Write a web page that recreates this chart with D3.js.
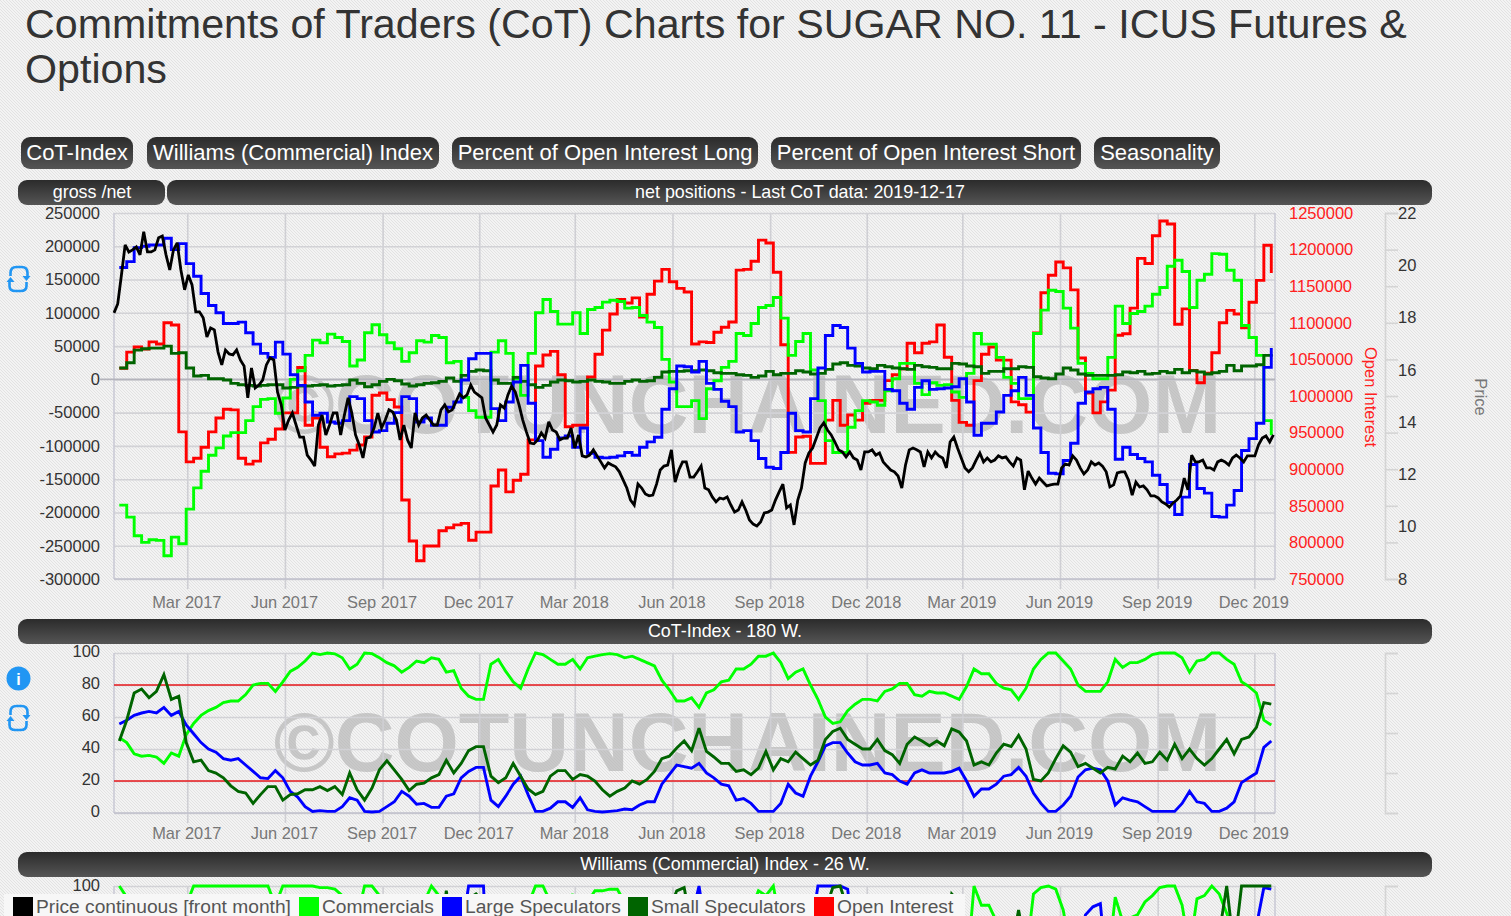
<!DOCTYPE html>
<html>
<head>
<meta charset="utf-8">
<title>Commitments of Traders (CoT) Charts for SUGAR NO. 11 - ICUS Futures &amp; Options</title>
<script src="https://d3js.org/d3.v7.min.js"></script>
<style>
html,body{margin:0;padding:0;background:#f0f0f0;overflow:hidden}
svg{display:block;font-family:"Liberation Sans",Arial,sans-serif}
</style>
</head>
<body>
<div id="chart"></div>
<script>
// ---------- data: weekly net positions (thousand contracts), 2016-12-27 .. 2019-12-17 ----------
const firstReport = "2016-12-27";
const netCommercials = [
-189,-207,-235,-245,-241,-242,-265,-237,-247,-195,
-163,-138,-114,-103,-85,-80,-80,-62,-41,-30,
-29,-51,-28,0,13,36,59,55,68,63,
57,20,29,70,82,67,55,46,27,40,
58,56,66,63,25,27,-27,-47,-57,-57,
41,58,39,1,-24,39,100,120,102,83,
83,100,69,105,108,116,119,117,107,108,
96,86,78,30,-4,-41,-41,-32,-59,-14,
-2,18,27,69,66,84,108,111,123,92,
36,57,69,14,-32,-92,-110,-110,-72,-47,
-32,-34,-39,-17,1,24,24,-6,-23,-5,
-9,-8,-19,-27,9,69,53,53,33,3,
-6,-29,-29,69,104,134,132,107,77,24,
9,1,1,33,110,84,99,102,110,128,
138,170,179,162,108,149,158,189,188,164,
149,81,63,36,-62,-84];
const netLargeSpecs = [
168,177,198,200,202,202,212,195,204,174,
155,129,111,100,84,84,86,70,53,39,
33,56,38,7,-9,-34,-54,-51,-64,-66,
-62,-26,-29,-62,-79,-77,-66,-50,-26,-29,
-64,-58,-69,-69,-42,-34,-1,31,39,39,
-44,-62,-34,-4,21,-36,-92,-117,-105,-88,
-85,-102,-73,-111,-117,-118,-117,-115,-110,-114,
-102,-94,-87,-45,-14,20,19,11,27,-6,
-15,-33,-41,-79,-77,-92,-119,-132,-134,-110,
-51,-77,-79,-29,17,66,81,78,47,24,
11,12,12,-15,-17,-36,-45,-12,-2,-15,
-14,-13,-11,1,-34,-84,-66,-66,-49,-24,
-17,3,-24,-73,-110,-141,-142,-122,-96,-36,
-19,-14,-12,-45,-120,-102,-113,-119,-124,-144,
-158,-185,-203,-177,-128,-164,-171,-206,-207,-189,
-167,-107,-89,-66,18,47];
const netSmallSpecs = [
17,25,44,46,47,47,50,39,40,17,
5,6,1,1,-1,-6,-8,-9,-10,-9,
-8,-8,-13,-12,-10,-10,-9,-8,-10,-9,
-8,-1,-6,-11,-8,-3,0,-2,-7,-10,
-8,-6,-5,-3,2,-3,6,12,14,13,
-1,-6,-6,3,-3,-8,-12,-9,-4,-1,
-2,-4,-3,-1,-3,-4,-6,-6,-3,-1,
-3,-2,3,11,12,12,13,13,14,13,
10,9,9,7,6,3,5,12,7,9,
9,13,11,8,9,15,23,25,21,20,
17,16,21,19,17,16,15,21,19,18,
16,16,24,23,20,19,9,12,12,16,
16,19,18,4,2,1,8,17,14,8,
6,6,6,6,7,11,10,12,8,9,
12,10,15,10,13,11,8,10,12,21,
13,20,20,22,36,38];
const openInterest = [
1038,1060,1067,1064,1074,1071,1100,1097,951,910,
915,930,951,970,982,981,915,907,911,936,
941,955,977,977,1039,960,970,930,917,921,
922,926,933,944,1001,1004,995,985,858,802,
775,795,795,816,820,824,826,803,814,814,
877,899,869,885,893,940,1041,1056,1061,1029,
958,960,960,1026,1057,1090,1112,1132,1127,1134,
1108,1139,1157,1173,1156,1147,1142,1071,1074,1073,
1087,1094,1101,1172,1173,1184,1213,1209,1169,1070,
923,944,945,908,908,967,994,960,974,967,
990,994,994,1021,1029,1037,1072,1059,1072,1074,
1097,1053,994,964,960,1021,1057,1067,1049,1049,
992,988,978,1086,1141,1165,1183,1175,1145,1052,
1004,977,992,1008,1083,1085,1120,1188,1181,1219,
1239,1235,1098,1119,1035,1018,1031,1059,1100,1117,
1112,1093,1128,1158,1206,1168];

// price continuous [front month], two readings per week from 2016-12-22
const firstPrice = "2016-12-22";
const priceFront = [
18.18,18.52,19.63,20.78,20.51,20.59,20.70,20.40,21.28,20.51,20.51,20.59,21.05,21.12,20.40,19.82,20.59,20.86,19.82,19.06,
19.63,19.25,18.22,18.22,17.99,17.26,17.60,17.53,16.68,16.19,16.76,16.61,16.57,16.76,16.38,16.15,14.93,16.07,15.31,15.42,
15.61,16.19,16.46,16.38,15.15,14.66,13.70,14.08,14.35,13.89,13.43,13.43,12.74,12.55,12.32,13.89,14.27,13.51,13.89,14.35,
14.35,13.51,14.27,14.93,14.35,13.51,13.13,12.63,13.39,13.43,13.78,14.35,13.78,14.08,14.47,14.39,14.08,13.32,13.89,13.32,
13.01,14.35,13.89,14.16,14.27,14.08,13.89,13.89,14.47,14.66,14.39,14.47,14.77,15.08,14.93,15.04,15.42,15.15,15.04,14.93,
14.16,13.89,13.62,13.89,14.66,14.54,15.04,15.38,15.15,14.66,14.08,13.62,13.20,13.17,13.32,13.59,13.39,14.01,13.70,13.62,
13.32,13.39,13.39,13.78,13.01,13.51,12.71,12.67,12.74,12.94,12.71,12.48,12.25,12.44,12.36,12.29,12.10,11.79,11.48,11.02,
10.83,11.63,11.48,11.25,11.18,11.21,11.63,12.17,12.32,12.36,12.94,11.71,12.17,12.48,12.48,11.90,11.90,12.10,12.32,11.48,
11.41,11.14,10.95,11.10,11.06,11.14,10.83,10.56,10.64,10.95,10.64,10.26,10.10,10.03,10.18,10.53,10.56,10.64,11.02,11.33,
11.63,10.72,10.83,10.07,11.02,11.48,12.44,12.82,13.01,13.39,13.78,13.97,13.70,13.51,13.24,12.94,12.86,12.67,12.86,12.63,
12.55,12.17,12.86,12.86,12.94,12.74,12.82,12.48,12.32,12.17,12.10,11.94,11.48,12.36,12.94,13.01,12.94,12.86,12.29,12.86,
12.63,12.86,12.71,12.63,12.25,13.24,13.43,13.01,12.63,12.25,12.10,12.25,12.55,12.82,12.48,12.63,12.48,12.55,12.71,
12.63,12.67,12.48,12.32,12.63,12.55,11.41,12.13,11.86,11.63,11.86,11.71,11.56,11.60,11.63,11.63,12.25,12.40,12.36,12.71,
12.55,12.25,12.02,12.17,12.48,12.36,12.44,12.32,12.10,11.52,11.60,12.06,12.10,12.10,11.79,11.21,11.71,11.52,11.56,11.41,
11.18,11.18,11.10,10.95,10.87,10.75,10.91,11.02,11.18,11.86,11.41,12.74,12.48,12.48,12.55,12.25,12.25,12.17,12.48,12.55,
12.48,12.36,12.63,12.74,12.63,12.48,12.71,12.71,12.71,13.13,13.39,13.47,13.24,13.51];

// CoT-Index - 180 W.
const cotCommercials = [
47,44,37,35.5,36,35,31,37.5,35.5,49,
56,61,64,66,69,70,70,74,80,81,
81,76,82,88.5,91,95,100,99,100,99.5,
97,90,93,100,99.6,97,94,92,88,91,
95,94,97,96,88,89,78,73,71,71,
93,96,88.5,82,78,90,100,99,96,93,
93,96,90,97,98,99,99.6,99,97,98,
96,94,92,83,77,70,70,72,66,75,
77,82,83,90,90,93,98,98,100,94,
84,88,90,80,71,60,56,57,64,68,
71,71,70,76,77.5,81,81,74,73,76,
75,75,73,71,79,90,87,87,81,78,
77,71,78,90,96,100,100,95,90,80,
76,76,76,82,96,91,94,94,96,99,
100,100,100,97,88,95,96,100,100,96,
93,82,79,75,58,55];
const cotLargeSpecs = [
55.6,58,61,62.5,63.5,62.5,66,61,63.5,55,
49.5,44,40,38,34,33,34,30,26,22,
21.5,26.5,22,13.5,10,4,1,1.5,1,1,
4,9.5,8,1,0.6,1,4,7,13.5,10.5,
5.5,6,3.5,3.5,10.5,12,22,26,28.5,28.5,
8,4,10.5,18,23,11.5,1,1,3,7,
7,3.5,9.5,2,1,0.6,1,1.5,2.5,2,
5,7,7,18,24,30,29,28,31,25,
22,18,17,8,9,6,1,1,1,6,
18,12.5,10.5,23,32,42,44,44,37.5,32,
30,30,31,25,24,20,18,25,27,25,
25,25,26,28,20,10.5,15,15,18,23,
24,28.5,23,12.5,6,1,1,5,10.5,22.5,
27,28,27,20,5,9.5,8,7,4,1,
1,1,1,6,13.5,7,6,1,1,3,
7,19,22,25,41,45];
const cotSmallSpecs = [
45,58,75,77.5,72,76,86.5,71,73,44,
32,33,26.5,25,22,17,13.5,12.5,6,11.5,
16.5,16.5,8,11.5,12,14.5,14.5,16.5,14,16.5,
11.5,25,14.5,8,15.6,27,32.7,27,21,14,
18,18.7,22,24,33,25,31,39,41.5,41.5,
23,19,22,31,23,15,11.5,13.5,23,26.5,
26.5,21,24,23,20,14.5,10.5,13.5,15.6,20,
18,21,26,34,35.5,40.6,45,39,53,38.5,
35,31,31,26,27,24,28,38.5,27,34,
32,38,34,30,33,46,51,53,46,43,
40,40,46,39,36.5,31,43,47.5,45,42,
45,42,52.5,50.6,45,30,32,30,37.5,43,
41.6,48.5,40,21,20,25,34,42,38,29,
31,28,25,28.5,27.5,35.5,32,37.5,31,32,
38,33,43,34,40,34,30,34,40,46,
37,46,47.5,53.5,69,68];

// Williams (Commercial) Index - 26 W. (only the very top of this chart is on screen)
const wilCommercials = [
100,93,80,70,65,60,50,60,70,88,
100,100,100,100,100,100,100,100,100,100,
100,88,100,100,100,100,100,99,99,98,
94,70,80,100,100,94,88,75,60,75,
92,90,100,94,60,70,40,30,20,20,
70,88,60,40,30,88,100,100,90,80,
80,95,70,90,97,97,98,98,90,92,
80,70,55,30,20,10,10,15,5,25,
30,45,50,75,72,85,97,94,100,75,
30,50,60,20,5,0,0,0,5,15,
25,22,20,35,45,60,60,30,20,35,
30,30,22,15,45,100,88,88,78,60,
50,25,55,95,99,100,98,85,60,30,
20,20,20,50,93,78,80,82,90,94,
99,100,100,88,60,92,94,100,95,83,
70,40,30,25,10,5];
const wilLargeSpecs = [
50,55,60,62,60,55,65,50,60,40,
30,20,15,12,10,8,10,7,5,3,
2,30,15,8,5,0,0,2,0,1,
8,40,30,3,2,5,15,30,55,40,
15,20,10,10,40,50,70,100,100,100,
5,0,25,55,70,20,0,0,8,30,
30,10,50,3,0,0,0,3,8,3,
20,30,35,70,85,90,85,80,100,70,
60,40,35,8,10,5,0,0,0,10,
60,30,25,70,100,100,100,100,98,60,
40,45,50,20,18,5,0,25,35,20,
25,25,30,40,10,0,15,15,30,50,
55,70,50,15,3,0,0,10,25,55,
82,87,89,40,3,10,5,3,2,0,
0,0,0,5,25,8,5,0,0,3,
10,45,60,75,99,98];
const wilSmallSpecs = [
10,40,60,62,50,60,85,55,60,20,
10,12,8,7,5,3,2,2,0,5,
15,15,5,10,12,20,20,25,18,25,
15,50,25,8,30,70,85,70,50,25,
35,38,50,60,97,60,80,92,95,90,
40,25,50,80,50,25,15,20,45,55,
55,40,50,45,38,25,12,20,30,40,
35,42,55,80,85,97,99,75,90,70,
60,50,50,30,35,25,35,70,30,55,
50,70,55,40,50,85,99,100,85,70,
55,55,80,55,45,30,70,85,78,65,
78,65,95,90,75,30,35,30,50,70,
60,85,60,10,8,20,50,78,60,35,
40,30,25,32,30,55,45,60,38,42,
62,50,70,40,58,40,30,40,70,100,
60,100,100,100,100,100];

// ---------- axes, labels ----------
const netTicks = [250000,200000,150000,100000,50000,0,-50000,-100000,-150000,-200000,-250000,-300000];
const oiTicks = [1250000,1200000,1150000,1100000,1050000,1000000,950000,900000,850000,800000,750000];
const priceTicks = [22,20,18,16,14,12,10,8];
const indexTicks = [100,80,60,40,20,0];
const williamsVisibleTicks = [100];
const indexBands = [80,20];
const sideTicks = [100,75,50,25,0];
const timeTicks = ["2017-03-01","2017-06-01","2017-09-01","2017-12-01","2018-03-01","2018-06-01","2018-09-01","2018-12-01","2019-03-01","2019-06-01","2019-09-01","2019-12-01"];
const titleLines = ["Commitments of Traders (CoT) Charts for SUGAR NO. 11 - ICUS Futures &","Options"];
const buttonLabels = ["CoT-Index","Williams (Commercial) Index","Percent of Open Interest Long","Percent of Open Interest Short","Seasonality"];
const legendLabels = ["Price continuous [front month]","Commercials","Large Speculators","Small Speculators","Open Interest"];
const watermark = "\u00A9COTUNCHAINED.COM";

// ---------- drawing ----------
const W = 1511, H = 916;
const C = {green:"#00ff00", blue:"#0000ff", dark:"#006400", red:"#ff0000", black:"#000000"};
const svg = d3.select("#chart").append("svg").attr("width",W).attr("height",H).attr("viewBox",`0 0 ${W} ${H}`);
const defs = svg.append("defs");

const pat = defs.append("pattern").attr("id","dither").attr("width",3).attr("height",3).attr("patternUnits","userSpaceOnUse");
pat.append("rect").attr("width",3).attr("height",3).attr("fill","#f3f3f3");
[[0,0],[1,1],[2,2]].forEach(p=>pat.append("rect").attr("x",p[0]).attr("y",p[1]).attr("width",1).attr("height",1).attr("fill","#e2e2e2"));
const grad = defs.append("linearGradient").attr("id","bar").attr("x1",0).attr("y1",0).attr("x2",0).attr("y2",1);
grad.append("stop").attr("offset","0").attr("stop-color","#2b2b2b");
grad.append("stop").attr("offset","1").attr("stop-color","#555555");

svg.append("rect").attr("width",W).attr("height",H).attr("fill","url(#dither)");

// title
svg.append("g").selectAll("text").data(titleLines).join("text")
  .attr("x",25).attr("y",(d,i)=>37.5+i*45).attr("font-size",41.2).attr("fill","#333").text(d=>d);

// buttons
const buttonBoxes = [[21,112],[147,292],[452,306],[771,310],[1094,126]];
const btn = svg.append("g").selectAll("g").data(buttonLabels).join("g");
btn.append("rect").attr("x",(d,i)=>buttonBoxes[i][0]).attr("y",137).attr("width",(d,i)=>buttonBoxes[i][1]).attr("height",32).attr("rx",9).attr("fill","url(#bar)");
btn.append("text").attr("x",(d,i)=>buttonBoxes[i][0]+buttonBoxes[i][1]/2).attr("y",160).attr("text-anchor","middle")
  .attr("font-size",22).attr("fill","#fff").text(d=>d);

function bar(x,y,w,label,cx){
  svg.append("rect").attr("x",x).attr("y",y).attr("width",w).attr("height",25).attr("rx",9).attr("fill","url(#bar)");
  svg.append("text").attr("x",cx).attr("y",y+18).attr("text-anchor","middle").attr("font-size",17.9).attr("fill","#fff").text(label);
}
bar(18,180,147,"gross /net",92);
bar(167,180,1265,"net positions - Last CoT data: 2019-12-17",800);
bar(18,619,1414,"CoT-Index - 180 W.",725);
bar(18,852,1414,"Williams (Commercial) Index - 26 W.",725);

// scales
const x = d3.scaleUtc().domain([new Date("2016-12-22T00:00Z"),new Date("2019-12-20T12:00Z")]).range([114,1275]);
const tickDates = timeTicks.map(d=>new Date(d+"T00:00Z"));
const fmt = d3.utcFormat("%b %Y");
const DAY = 864e5;
const weekDate = i => new Date(+new Date(firstReport+"T00:00Z")+i*7*DAY);
const priceDate = i => new Date(+new Date(firstPrice+"T00:00Z")+i*3.5*DAY);

function styleAxis(g,color,size){
  g.select(".domain").remove();
  g.selectAll("text").attr("fill",color).attr("font-size",size).attr("font-family","'Liberation Sans',Arial,sans-serif");
}
// o: {pad: month-label padding, labelDy: shift of left labels, months: draw month labels, labels: left label values}
function grid(y0,y1,yScaleTicks,yScale,o){
  const g = svg.append("g");
  const ax = g.append("g").attr("transform",`translate(0,${y1})`)
    .call(d3.axisBottom(x).tickValues(tickDates).tickFormat(o.months?fmt:"").tickSize(10).tickPadding(o.pad));
  styleAxis(ax,"#777",16.4);
  ax.selectAll("text").attr("dx",-1);
  ax.selectAll("line").attr("y1",-(y1-y0)).attr("stroke","#cfcfd4").attr("stroke-width",1.6);
  if(!o.months) ax.selectAll("text").remove();
  const ay = g.append("g").attr("transform","translate(114,0)")
    .call(d3.axisLeft(yScale).tickValues(yScaleTicks).tickFormat(d=>String(d)).tickSize(14).tickPadding(0));
  styleAxis(ay,"#333",16.5);
  ay.selectAll("text").attr("dy",(0.32-o.labelDy/16.5)+"em");
  ay.selectAll("line").attr("x2",1161).attr("stroke","#d2d2d6").attr("stroke-width",1.6);
  g.append("line").attr("x1",114).attr("x2",114).attr("y1",y0).attr("y2",y1).attr("stroke","#c8c8d4").attr("stroke-width",1.5);
  g.append("line").attr("x1",1275).attr("x2",1275).attr("y1",y0).attr("y2",y1).attr("stroke","#c8c8d4").attr("stroke-width",1.5);
  g.append("line").attr("x1",114).attr("x2",1275).attr("y1",y1).attr("y2",y1).attr("stroke","#c0c0cc").attr("stroke-width",1.6);
}
function sideAxis(scale,values){
  const a = svg.append("g").attr("transform","translate(1385,0)")
    .call(d3.axisRight(scale).tickValues(values).tickFormat("").tickSize(13));
  a.select(".domain").attr("stroke","#d4d4d4").attr("stroke-width",1.6);
  a.selectAll("line").attr("stroke","#d4d4d4").attr("stroke-width",1.6);
  a.selectAll("text").remove();
}
function wm(y){
  svg.append("text").attr("x",747.5).attr("y",y).attr("text-anchor","middle").attr("font-size",82.7)
    .attr("font-weight","bold").attr("fill","#a8a8a8").attr("opacity",0.55).text(watermark);
}
function path(values,xFn,yFn,color,curve,width){
  svg.append("path").datum(values).attr("fill","none").attr("stroke",color).attr("stroke-width",width)
    .attr("stroke-linejoin","miter").attr("stroke-miterlimit",3)
    .attr("d",d3.line().x((d,i)=>x(xFn(i))).y(d=>yFn(d)).curve(curve));
}

// ---- chart 1: net positions
const yNet = d3.scaleLinear().domain([-300000,250000]).range([579,213]);
const yOI = d3.scaleLinear().domain([750000,1250000]).range([579,213]);
const yPrice = d3.scaleLinear().domain([8,22]).range([579,213]);
wm(433);
grid(213,579,netTicks,yNet,{pad:7,labelDy:0,months:true});
svg.append("line").attr("x1",100).attr("x2",1275).attr("y1",yNet(0)).attr("y2",yNet(0)).attr("stroke","#b4b4bc").attr("stroke-width",1.6);
const oiAxis = svg.append("g").attr("transform","translate(1289,0)")
  .call(d3.axisRight(yOI).tickValues(oiTicks).tickFormat(d=>String(d)).tickSize(0).tickPadding(0));
styleAxis(oiAxis,"#ff2020",16.5);
sideAxis(yOI,oiTicks);
const prAxis = svg.append("g").attr("transform","translate(1398,0)")
  .call(d3.axisRight(yPrice).tickValues(priceTicks).tickFormat(d=>String(d)).tickSize(0).tickPadding(0));
styleAxis(prAxis,"#333",16.5);
svg.append("text").attr("transform","translate(1365,397) rotate(90)").attr("text-anchor","middle").attr("font-size",16.5).attr("fill","#ff2020").text("Open Interest");
svg.append("text").attr("transform","translate(1475,397) rotate(90)").attr("text-anchor","middle").attr("font-size",16.5).attr("fill","#777").text("Price");

const step = d3.curveStepAfter;
path(openInterest,weekDate,d=>yOI(d*1000),C.red,step,2.9);
path(netCommercials,weekDate,d=>yNet(d*1000),C.green,step,2.9);
path(netSmallSpecs,weekDate,d=>yNet(d*1000),C.dark,step,2.9);
path(netLargeSpecs,weekDate,d=>yNet(d*1000),C.blue,step,2.9);
path(priceFront,priceDate,d=>yPrice(d),C.black,d3.curveLinear,2.8);

// ---- chart 2: CoT index
const yCot = d3.scaleLinear().domain([0,100]).range([813,653]);
wm(771);
grid(653,813,indexTicks,yCot,{pad:4,labelDy:1.5,months:true});
sideAxis(yCot,sideTicks);
indexBands.forEach(b=>svg.append("line").attr("x1",114).attr("x2",1275).attr("y1",yCot(b)).attr("y2",yCot(b)).attr("stroke","#e8181c").attr("stroke-width",1.4));
path(cotCommercials,weekDate,yCot,C.green,d3.curveLinear,2.9);
path(cotLargeSpecs,weekDate,yCot,C.blue,d3.curveLinear,2.9);
path(cotSmallSpecs,weekDate,yCot,C.dark,d3.curveLinear,2.9);

// ---- chart 3: Williams index (runs off the page; only its first tick label is on screen)
const yWil = d3.scaleLinear().domain([0,100]).range([1046,886]);
grid(886,1046,williamsVisibleTicks,yWil,{pad:4,labelDy:1,months:false});
sideAxis(yWil,williamsVisibleTicks);
path(wilCommercials,weekDate,yWil,C.green,d3.curveLinear,2.9);
path(wilLargeSpecs,weekDate,yWil,C.blue,d3.curveLinear,2.9);
path(wilSmallSpecs,weekDate,yWil,C.dark,d3.curveLinear,2.9);

// ---- legend
const legendX = [13,299,442,628,814];
const legendColors = [C.black,C.green,C.blue,C.dark,C.red];
const lg = svg.append("g");
lg.append("rect").attr("x",4).attr("y",894).attr("width",961).attr("height",22).attr("fill","#f7f7f7");
legendLabels.forEach((t,i)=>{
  lg.append("rect").attr("x",legendX[i]).attr("y",897).attr("width",20).attr("height",19).attr("fill",legendColors[i]);
  lg.append("text").attr("x",legendX[i]+23).attr("y",912.5).attr("font-size",19.2).attr("fill","#555").text(t);
});

// ---- side icons
function syncIcon(cx,cy){
  const g = svg.append("g").attr("transform",`translate(${cx},${cy})`).attr("fill","none").attr("stroke","#2196f3").attr("stroke-width",2.6);
  g.append("path").attr("d","M-8,-3 V-6 Q-8,-12 -2,-12 H3 Q9,-12 9,-6 V-1");
  g.append("path").attr("d","M8,3 V7 Q8,12 2,12 H-3 Q-9,12 -9,7 V1");
  g.append("path").attr("d","M-8,-2 L-12,3 H-4 Z M8,2 L4,-3 H12 Z").attr("fill","#2196f3").attr("stroke","none");
}
syncIcon(18.5,279);
syncIcon(18.5,718);
svg.append("circle").attr("cx",18.5).attr("cy",678.5).attr("r",12).attr("fill","#2196f3");
svg.append("text").attr("x",18.5).attr("y",684.5).attr("text-anchor","middle").attr("font-size",16).attr("font-weight","bold").attr("fill","#fff").text("i");
</script>
</body>
</html>
